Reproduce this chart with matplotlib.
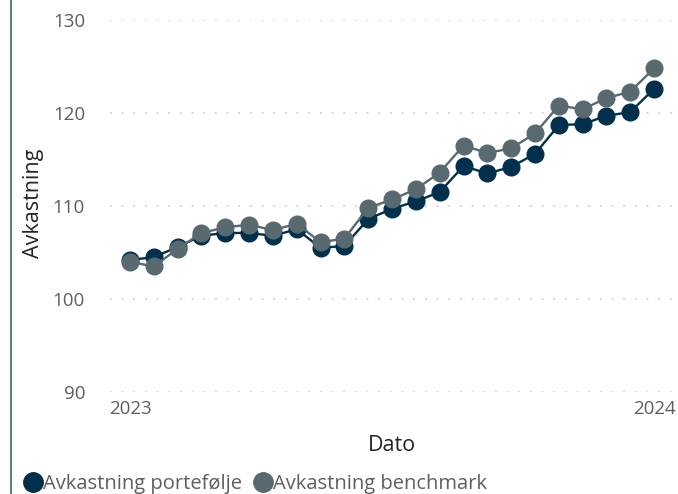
import matplotlib.pyplot as plt
from matplotlib.lines import Line2D

plt.rcParams['font.family'] = ['Open Sans', 'DejaVu Sans']

# one point per period, 2023 -> 2024
periods = list(range(23))
tick_pos = [0, 22]
tick_labels = ['2023', '2024']

portefolje = [104.2, 104.5, 105.6, 106.8, 107.1, 107.1, 106.8, 107.5, 105.5, 105.7,
              108.6, 109.7, 110.5, 111.5, 114.3, 113.5, 114.2, 115.6, 118.7, 118.8,
              119.7, 120.1, 122.6]
benchmark = [104.0, 103.5, 105.4, 107.1, 107.7, 108.0, 107.4, 108.1, 106.1, 106.5,
             109.8, 110.7, 111.8, 113.6, 116.5, 115.7, 116.2, 117.8, 120.8, 120.4,
             121.6, 122.3, 124.8]

c_port = '#01304D'
c_bench = '#586A70'
c_text = '#605E5C'

W, H = 678, 494
fig = plt.figure(figsize=(W / 100, H / 100), dpi=100)
# axes box: x 110..676 px, y (90 -> 392px, 130 -> 20px)
ax = fig.add_axes([110 / W, (H - 392) / H, 566 / W, 372 / H])

ax.plot(periods, portefolje, color=c_port, lw=1.7, marker='o', ms=12,
        clip_on=False, zorder=3)
ax.plot(periods, benchmark, color=c_bench, lw=1.7, marker='o', ms=12,
        clip_on=False, zorder=4)

ax.set_ylim(90, 130)
ax.set_xlim(-0.84, 22.92)
ax.set_yticks([90, 100, 110, 120, 130])
ax.set_xticks(tick_pos)
ax.set_xticklabels(tick_labels)
ax.tick_params(axis='both', length=0, labelsize=13.5, labelcolor=c_text)
ax.tick_params(axis='y', pad=18)
ax.tick_params(axis='x', pad=6)
ax.grid(axis='y', color='#C8C8C8', lw=1.2, linestyle=(0, (1, 6)))
ax.set_axisbelow(True)
for s in ax.spines.values():
    s.set_visible(False)

fig.text(392 / W, 1 - 445 / H, 'Dato', fontsize=15.5, color='#252423',
         ha='center', va='center')
fig.text(34 / W, 1 - 203 / H, 'Avkastning', rotation=90, fontsize=15.5,
         color='#252423', ha='center', va='center')

# left border line
fig.add_artist(Line2D([10.5 / W, 10.5 / W], [0, 1], color='#6B7B80', lw=1.5))

handles = [Line2D([], [], color=c_port, marker='o', ls='none', ms=14),
           Line2D([], [], color=c_bench, marker='o', ls='none', ms=14)]
leg = fig.legend(handles, ['Avkastning portefølje', 'Avkastning benchmark'],
                 loc='center left', bbox_to_anchor=(21 / W, 1 - 484 / H), ncol=2,
                 frameon=False, fontsize=14.5, handletextpad=-0.1,
                 columnspacing=0.45, handlelength=1.2, borderaxespad=0,
                 borderpad=0)
for t in leg.get_texts():
    t.set_color(c_text)

fig.savefig('out.png', dpi=100)
